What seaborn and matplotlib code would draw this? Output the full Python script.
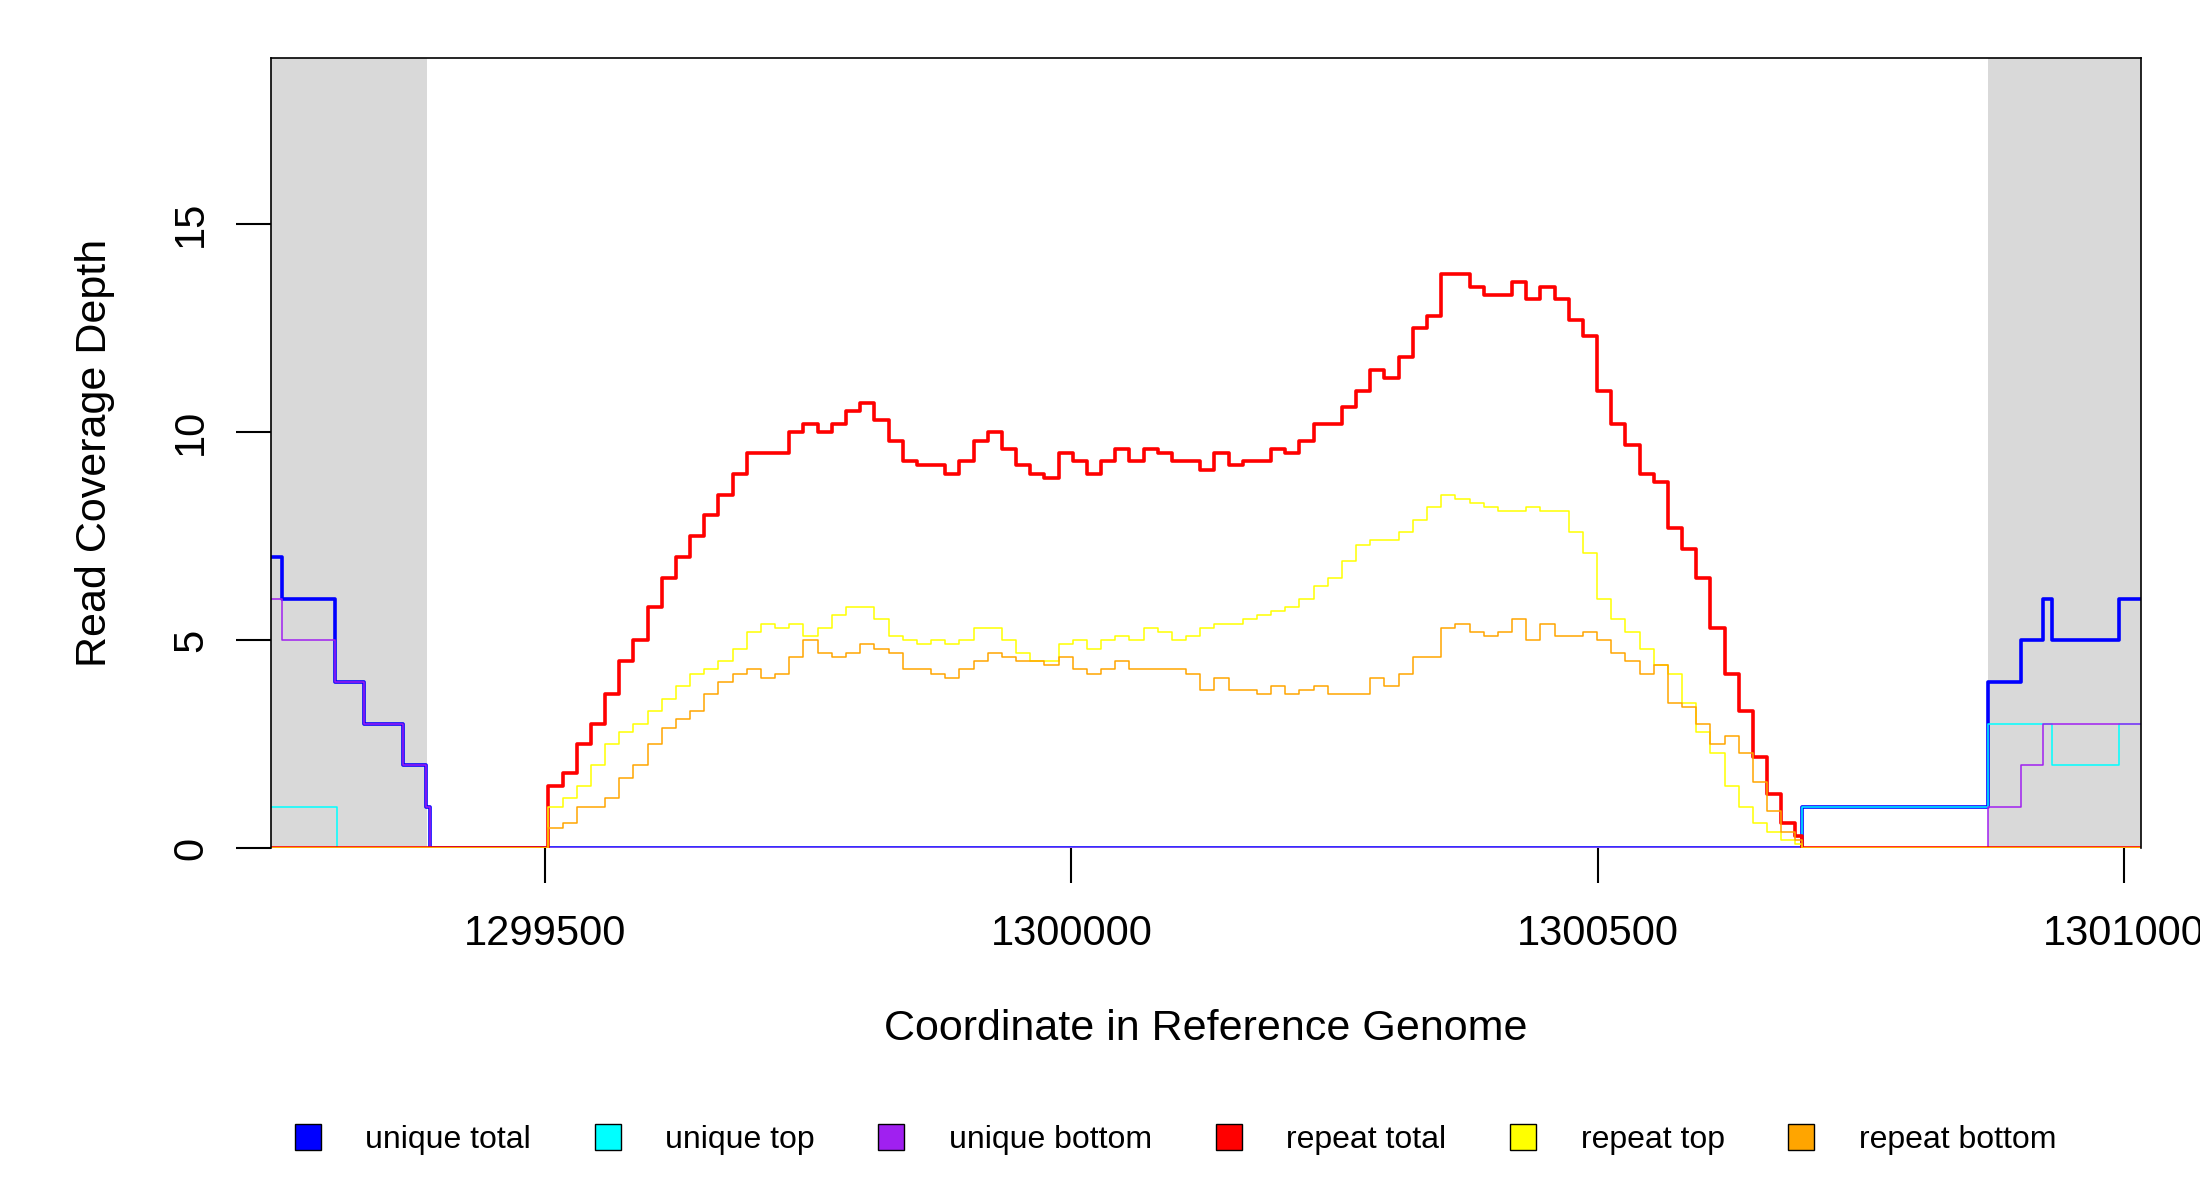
import numpy as np
import pandas as pd
import seaborn as sns
import matplotlib.pyplot as plt
from matplotlib.lines import Line2D

sns.set_style("white")
plt.rcParams['font.family'] = ['Liberation Sans', 'DejaVu Sans']
plt.rcParams['text.color'] = 'black'
plt.rcParams['axes.labelcolor'] = 'black'
plt.rcParams['xtick.color'] = 'black'
plt.rcParams['ytick.color'] = 'black'

# unique coverage (step positions in bp, value holds until next position)
ut_pos = [1299239, 1299250, 1299300, 1299328, 1299365, 1299387, 1299390, 1300694, 1300871, 1300902, 1300923, 1300932, 1300995, 1301016]
ut_val = [7, 6, 4, 3, 2, 1, 0, 1, 4, 5, 6, 5, 6, 6]
utop_pos = [1299239, 1299302, 1300694, 1300871, 1300932, 1300995, 1301016]
utop_val = [1, 0, 1, 3, 2, 3, 3]
ubot_pos = [1299239, 1299250, 1299300, 1299328, 1299365, 1299387, 1299390, 1300871, 1300902, 1300923, 1301016]
ubot_val = [6, 5, 4, 3, 2, 1, 0, 1, 2, 3, 3]

# repeat coverage sampled from 1299503 to 1300688
rep_total = [1.5, 1.8, 2.5, 3.0, 3.7, 4.5, 5.0, 5.8, 6.5, 7.0,
             7.5, 8.0, 8.5, 9.0, 9.5, 9.5, 9.5, 10.0, 10.2, 10.0,
             10.2, 10.5, 10.7, 10.3, 9.8, 9.3, 9.2, 9.2, 9.0, 9.3,
             9.8, 10.0, 9.6, 9.2, 9.0, 8.9, 9.5, 9.3, 9.0, 9.3,
             9.6, 9.3, 9.6, 9.5, 9.3, 9.3, 9.1, 9.5, 9.2, 9.3,
             9.3, 9.6, 9.5, 9.8, 10.2, 10.2, 10.6, 11.0, 11.5, 11.3,
             11.8, 12.5, 12.8, 13.8, 13.8, 13.5, 13.3, 13.3, 13.6, 13.2,
             13.5, 13.2, 12.7, 12.3, 11.0, 10.2, 9.7, 9.0, 8.8, 7.7,
             7.2, 6.5, 5.3, 4.2, 3.3, 2.2, 1.3, 0.6, 0.3]
rep_top = [1.0, 1.2, 1.5, 2.0, 2.5, 2.8, 3.0, 3.3, 3.6, 3.9,
           4.2, 4.3, 4.5, 4.8, 5.2, 5.4, 5.3, 5.4, 5.1, 5.3,
           5.6, 5.8, 5.8, 5.5, 5.1, 5.0, 4.9, 5.0, 4.9, 5.0,
           5.3, 5.3, 5.0, 4.7, 4.5, 4.5, 4.9, 5.0, 4.8, 5.0,
           5.1, 5.0, 5.3, 5.2, 5.0, 5.1, 5.3, 5.4, 5.4, 5.5,
           5.6, 5.7, 5.8, 6.0, 6.3, 6.5, 6.9, 7.3, 7.4, 7.4,
           7.6, 7.9, 8.2, 8.5, 8.4, 8.3, 8.2, 8.1, 8.1, 8.2,
           8.1, 8.1, 7.6, 7.1, 6.0, 5.5, 5.2, 4.8, 4.4, 4.2,
           3.5, 2.8, 2.3, 1.5, 1.0, 0.6, 0.4, 0.2, 0.1]
rep_bottom = [0.5, 0.6, 1.0, 1.0, 1.2, 1.7, 2.0, 2.5, 2.9, 3.1,
              3.3, 3.7, 4.0, 4.2, 4.3, 4.1, 4.2, 4.6, 5.0, 4.7,
              4.6, 4.7, 4.9, 4.8, 4.7, 4.3, 4.3, 4.2, 4.1, 4.3,
              4.5, 4.7, 4.6, 4.5, 4.5, 4.4, 4.6, 4.3, 4.2, 4.3,
              4.5, 4.3, 4.3, 4.3, 4.3, 4.2, 3.8, 4.1, 3.8, 3.8,
              3.7, 3.9, 3.7, 3.8, 3.9, 3.7, 3.7, 3.7, 4.1, 3.9,
              4.2, 4.6, 4.6, 5.3, 5.4, 5.2, 5.1, 5.2, 5.5, 5.0,
              5.4, 5.1, 5.1, 5.2, 5.0, 4.7, 4.5, 4.2, 4.4, 3.5,
              3.4, 3.0, 2.5, 2.7, 2.3, 1.6, 0.9, 0.4, 0.2]
rep_grid = np.linspace(1299503, 1300688, len(rep_total))

def rep_series(vals):
    pos = [1299239, 1299500] + list(rep_grid) + [1300694, 1301016]
    v = [0, 0] + list(vals) + [0, 0]
    return pos, v

fig = plt.figure(figsize=(22, 12), dpi=100)
ax = fig.add_axes([0.123, 0.293, 0.850, 0.659])
ax.axvspan(1299239, 1299388, color='#d9d9d9', lw=0)
ax.axvspan(1300871, 1301016, color='#d9d9d9', lw=0)

series = [
    (ut_pos, ut_val, 'blue', 2.6),
    (utop_pos, utop_val, 'cyan', 1.1),
    (ubot_pos, ubot_val, '#a020f0', 1.1),
]
for name, col, lw in [(rep_total, 'red', 2.6), (rep_top, 'yellow', 1.1), (rep_bottom, 'orange', 1.1)]:
    p, v = rep_series(name)
    series.append((p, v, col, lw))

for p, v, col, lw in series:
    df = pd.DataFrame({'pos': p, 'cov': v})
    sns.lineplot(data=df, x='pos', y='cov', color=col, lw=lw, drawstyle='steps-post',
                 estimator=None, sort=False, ax=ax)

ax.set_xlim(1299239, 1301016)
ax.set_ylim(0, 19)
ax.set_xticks([1299500, 1300000, 1300500, 1301000])
ax.set_xticklabels(['1299500', '1300000', '1300500', '1301000'])
ax.set_yticks([0, 5, 10, 15])
ax.set_yticklabels(['0', '5', '10', '15'], rotation=90, va='center')
ax.tick_params(axis='both', length=25, width=1.5, labelsize=30, direction='out', color='black',
               bottom=True, left=True)
ax.tick_params(axis='x', pad=22)
ax.tick_params(axis='y', pad=18)
for s in ax.spines.values():
    s.set_color('black')
    s.set_linewidth(1.2)
ax.spines['bottom'].set_visible(False)
ax.set_xlabel('Coordinate in Reference Genome', fontsize=31, labelpad=40)
ax.set_ylabel('Read Coverage Depth', fontsize=31, labelpad=40)

labels = ['unique total', 'unique top', 'unique bottom', 'repeat total', 'repeat top', 'repeat bottom']
colors = ['blue', 'cyan', '#a020f0', 'red', 'yellow', 'orange']
handles = [Line2D([], [], marker='s', ls='none', markersize=19, markerfacecolor=c,
                  markeredgecolor='black', markeredgewidth=1) for c in colors]
fig.legend(handles, labels, loc='center', bbox_to_anchor=(0.53, 0.05), ncol=6, frameon=False,
           fontsize=23, columnspacing=1.4, handletextpad=0.8)

fig.savefig('out.png', dpi=100)
